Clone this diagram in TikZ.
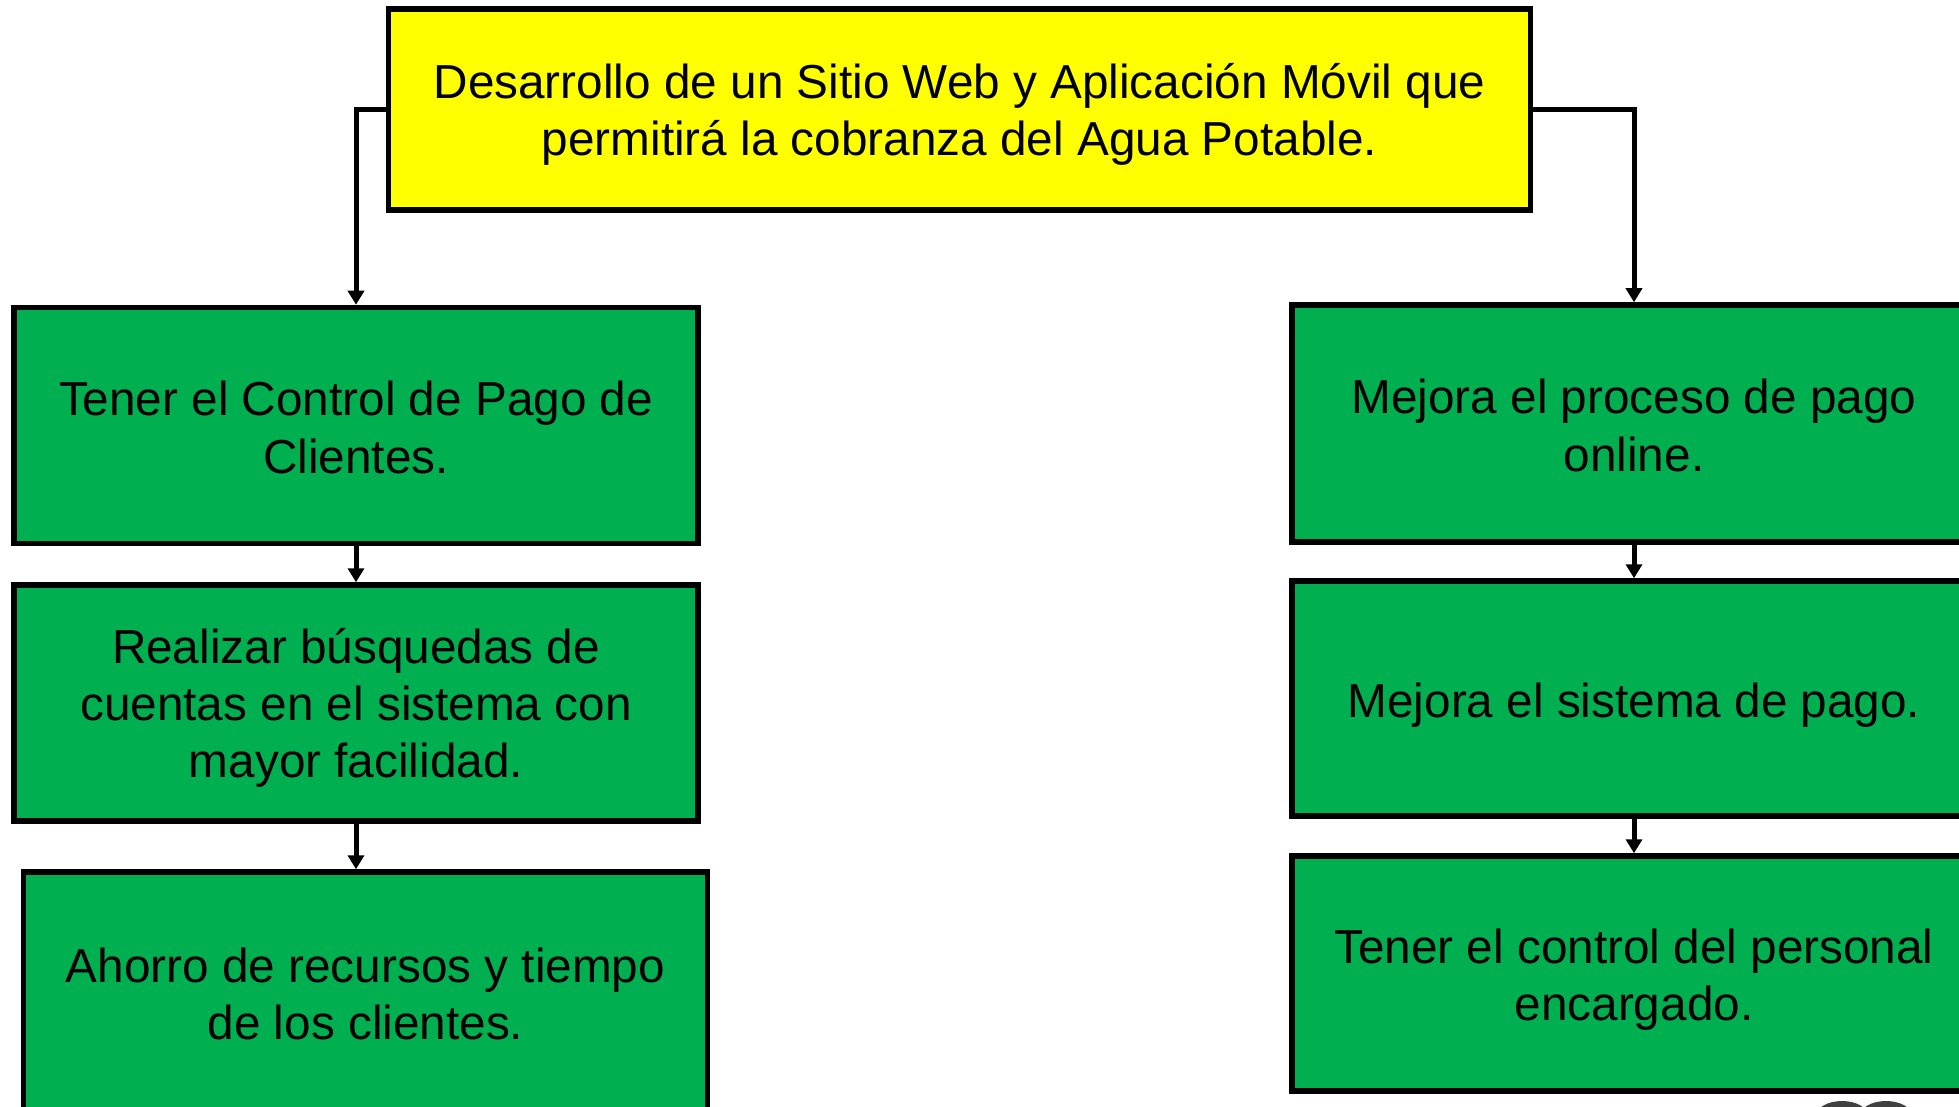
\documentclass[tikz,border=0pt]{standalone}
\usepackage{fontspec}
\setmainfont{Liberation Sans}
\usetikzlibrary{arrows.meta}
\definecolor{boxyellow}{HTML}{FFFF00}
\definecolor{boxgreen}{HTML}{00AF50}
\begin{document}
\begin{tikzpicture}[x=1pt,y=-1pt,
  boxbase/.style={draw=black, line width=5.5pt, inner sep=0pt},
  ybox/.style={boxbase, fill=boxyellow, minimum width=1142pt, minimum height=201pt},
  gbox/.style={boxbase, fill=boxgreen, minimum width=684pt, minimum height=236pt},
  txt/.style={align=center, inner sep=0pt, font=\fontsize{47.7}{57.3}\selectfont},
  conn/.style={draw=black, line width=5pt, -{Triangle[width=16pt,length=14pt]}}]
\useasboundingbox (0,0) rectangle (1959,1107);
\clip (0,0) rectangle (1959,1107);
\fill[white] (0,0) rectangle (1959,1107);

\node[ybox] (top) at (959.5,109.4) {};
\node[txt] (ttop) at ([yshift=-5pt]top.center) {Desarrollo de un Sitio Web y Aplicación Móvil que\\permitirá la cobranza del Agua Potable.};

\node[gbox] (l1) at (356,425.5) {};
\node[txt] (tl1) at ([yshift=-2pt]l1.center) {Tener el Control de Pago de\\Clientes.};
\node[gbox] (l2) at (356,703) {};
\node[txt] (tl2) at ([yshift=-5pt]l2.center) {Realizar búsquedas de\\cuentas en el sistema con\\mayor facilidad.};
\node[gbox, minimum height=244pt] (l3) at (365.5,994) {};
\node[txt] (tl3) at (l3.center) {Ahorro de recursos y tiempo\\de los clientes.};

\node[gbox, minimum height=237pt] (r1) at (1634,423.5) {};
\node[txt] (tr1) at ([yshift=-2pt]r1.center) {Mejora el proceso de pago\\online.};
\node[gbox, minimum height=235pt] (r2) at (1634,698.5) {};
\node[txt] (tr2) at ([yshift=-7pt]r2.center) {Mejora el sistema de pago.};
\node[gbox, minimum height=235pt] (r3) at (1634,973.5) {};
\node[txt] (tr3) at ([yshift=-6pt]r3.center) {Tener el control del personal\\encargado.};

\draw[conn] (top.west) -| (l1.north);
\draw[conn] (top.east) -| (r1.north);
\draw[conn] (l1.south) -- (l2.north);
\draw[conn] (l2.south) -- (l2.south |- l3.north);
\draw[conn] (r1.south) -- (r2.north);
\draw[conn] (r2.south) -- (r3.north);

\fill[black!75] (1842,1116) ellipse (26pt and 15pt);
\fill[black!75] (1886,1116) ellipse (26pt and 15pt);
\end{tikzpicture}
\end{document}
